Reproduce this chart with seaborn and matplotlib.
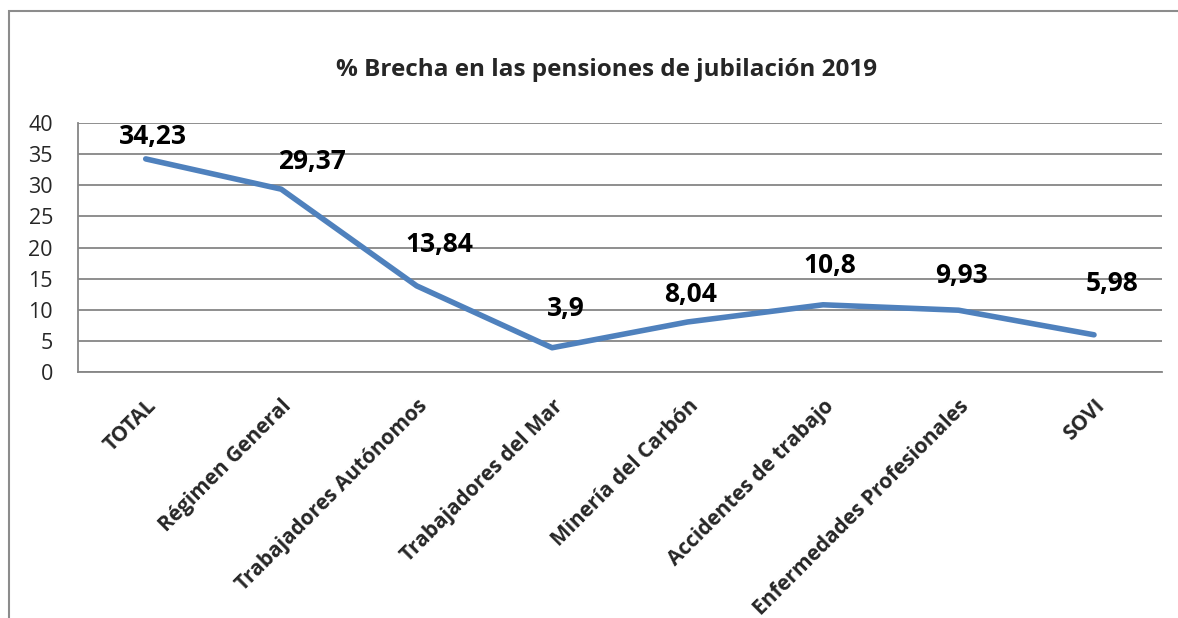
import numpy as np
import pandas as pd
import matplotlib.pyplot as plt
import seaborn as sns
from matplotlib.patches import Rectangle

# data
categorias = ["TOTAL", "Régimen General", "Trabajadores Autónomos", "Trabajadores del Mar",
              "Minería del Carbón", "Accidentes de trabajo", "Enfermedades Profesionales", "SOVI"]
brecha = [34.23, 29.37, 13.84, 3.9, 8.04, 10.8, 9.93, 5.98]
etiquetas = ["34,23", "29,37", "13,84", "3,9", "8,04", "10,8", "9,93", "5,98"]
y_ticks = [0, 5, 10, 15, 20, 25, 30, 35, 40]

# label offsets (points) to mimic the manual placement
offsets = [(5, 16), (22, 20), (16, 30), (10, 28), (2, 20), (5, 28), (2, 25), (13, 37)]

sns.set_style("white")
plt.rcParams["font.family"] = ["Open Sans", "DejaVu Sans"]

df = pd.DataFrame({"cat": categorias, "val": brecha, "pos": np.arange(len(categorias))})

fig = plt.figure(figsize=(11.78, 6.18), dpi=100)
ax = fig.add_axes([0.0662, 0.398, 0.92, 0.403])

grid_col = "#868686"
for yv in y_ticks:
    ax.axhline(yv, color=grid_col, lw=1.3, zorder=1)

sns.lineplot(data=df, x="pos", y="val", color="#4F81BD", lw=4, ax=ax, zorder=3,
             solid_capstyle="round")

for i, (v, lab) in enumerate(zip(brecha, etiquetas)):
    ax.annotate(lab, (i, v), xytext=offsets[i], textcoords="offset points",
                ha="center", va="center", fontsize=19, fontweight="bold", color="black")

ax.set_xlim(-0.5, len(categorias) - 0.5)
ax.set_ylim(0, 40)
ax.set_yticks(y_ticks)
ax.set_yticklabels([str(t) for t in y_ticks], fontsize=15.5)
ax.set_xticks(range(len(categorias)))
ax.set_xticklabels(categorias, rotation=45, ha="right", rotation_mode="anchor",
                   fontsize=15, fontweight="bold")
ax.set_xticks(np.arange(-0.5, len(categorias)), minor=True)
ax.tick_params(axis="x", which="major", length=0, pad=17)
ax.tick_params(axis="x", which="minor", length=7, color=grid_col, width=1.3)
ax.tick_params(axis="y", length=7, color=grid_col, width=1.3, pad=11)
ax.set_xlabel("")
ax.set_ylabel("")

for s in ["top", "right"]:
    ax.spines[s].set_visible(False)
ax.spines["left"].set_color(grid_col)
ax.spines["left"].set_linewidth(1.3)
ax.spines["bottom"].set_color(grid_col)
ax.spines["bottom"].set_linewidth(1.3)

fig.text(0.515, 0.886, "% Brecha en las pensiones de jubilación 2019",
         ha="center", va="center", fontsize=17.5, fontweight="bold")

# outer chart frame (only top and left edges fall inside the image)
fig.patches.append(Rectangle((9 / 1178, -0.05), 1.1, 1.05 - 11 / 618,
                             transform=fig.transFigure, fill=False,
                             edgecolor="#8c8c8c", lw=1.5))

plt.savefig("out.png", dpi=100)
plt.close()
